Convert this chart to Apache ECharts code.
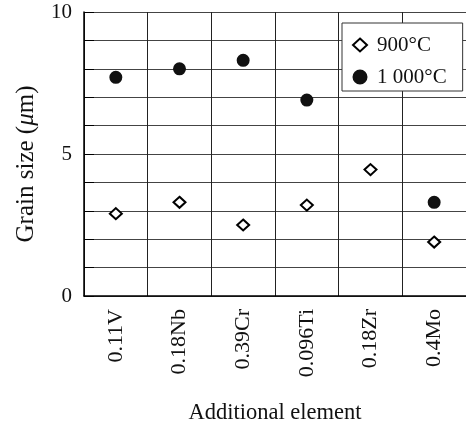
<!DOCTYPE html>
<html>
<head>
<meta charset="utf-8">
<script src="https://cdn.jsdelivr.net/npm/echarts@6/dist/echarts.min.js"></script>
<style>
html,body{margin:0;padding:0;background:#fff;}
#chart{width:466px;height:430px;}
</style>
</head>
<body>
<div id="chart"></div>
<script>
const categories = ['0.11V', '0.18Nb', '0.39Cr', '0.096Ti', '0.18Zr', '0.4Mo'];
const grain900 = [2.9, 3.3, 2.5, 3.2, 4.45, 1.9];
const grain1000 = [7.7, 8.0, 8.3, 6.9, null, 3.3];
const seriesNames = ['900°C', '1 000°C'];
const yLabelValues = [0, 5, 10];

const FONT = '"Liberation Serif", "Times New Roman", serif';
const chart = echarts.init(document.getElementById('chart'));
chart.setOption({
  animation: false,
  backgroundColor: '#fff',
  textStyle: { fontFamily: FONT },
  grid: { left: 84, top: 12, width: 384, height: 286 },
  legend: {
    orient: 'vertical',
    left: 342,
    top: 23,
    data: [
      { name: seriesNames[0], icon: 'diamond' },
      { name: seriesNames[1], icon: 'circle' }
    ],
    backgroundColor: '#fff',
    borderColor: '#333',
    borderWidth: 1,
    borderRadius: 0,
    padding: [10, 16, 2, 10],
    itemGap: 8,
    itemWidth: 14,
    itemHeight: 13,
    textStyle: { fontSize: 21, fontFamily: FONT, color: '#111', lineHeight: 24, padding: [0, 0, 0, 5] }
  },
  xAxis: {
    type: 'category',
    data: categories,
    boundaryGap: true,
    name: 'Additional element',
    nameLocation: 'middle',
    nameGap: 106,
    nameTextStyle: { fontSize: 22.5, fontFamily: FONT, color: '#111' },
    axisLine: { lineStyle: { color: '#000', width: 1.5 } },
    axisTick: { show: false },
    axisLabel: { rotate: 90, fontSize: 22, fontFamily: FONT, color: '#111', margin: 13 },
    splitLine: { show: true, lineStyle: { color: '#222', width: 1 } }
  },
  yAxis: {
    type: 'value',
    min: 0,
    max: 10,
    interval: 1,
    name: 'Grain size ({i|μ}m)',
    nameLocation: 'middle',
    nameGap: 45,
    nameTextStyle: {
      fontSize: 25, fontFamily: FONT, color: '#111', padding: [0, 20, 0, 0],
      rich: { i: { fontSize: 25, fontFamily: FONT, fontStyle: 'italic', color: '#111' } }
    },
    axisLine: { show: true, lineStyle: { color: '#000', width: 1.5 } },
    axisTick: { show: true, inside: true, length: 10, lineStyle: { color: '#000', width: 1 } },
    axisLabel: {
      fontSize: 21, fontFamily: FONT, color: '#111', margin: 12,
      formatter: v => (yLabelValues.indexOf(v) >= 0 ? String(v) : '')
    },
    splitLine: { show: true, lineStyle: { color: '#444', width: 1 } }
  },
  series: [
    {
      name: seriesNames[0],
      type: 'scatter',
      data: grain900,
      symbol: 'diamond',
      symbolSize: [12, 11],
      itemStyle: { color: '#fff', borderColor: '#000', borderWidth: 2, opacity: 1 }
    },
    {
      name: seriesNames[1],
      type: 'scatter',
      data: grain1000,
      symbol: 'circle',
      symbolSize: 11,
      itemStyle: { color: '#111', borderColor: '#111', borderWidth: 2, opacity: 1 }
    }
  ]
});
</script>
</body>
</html>
